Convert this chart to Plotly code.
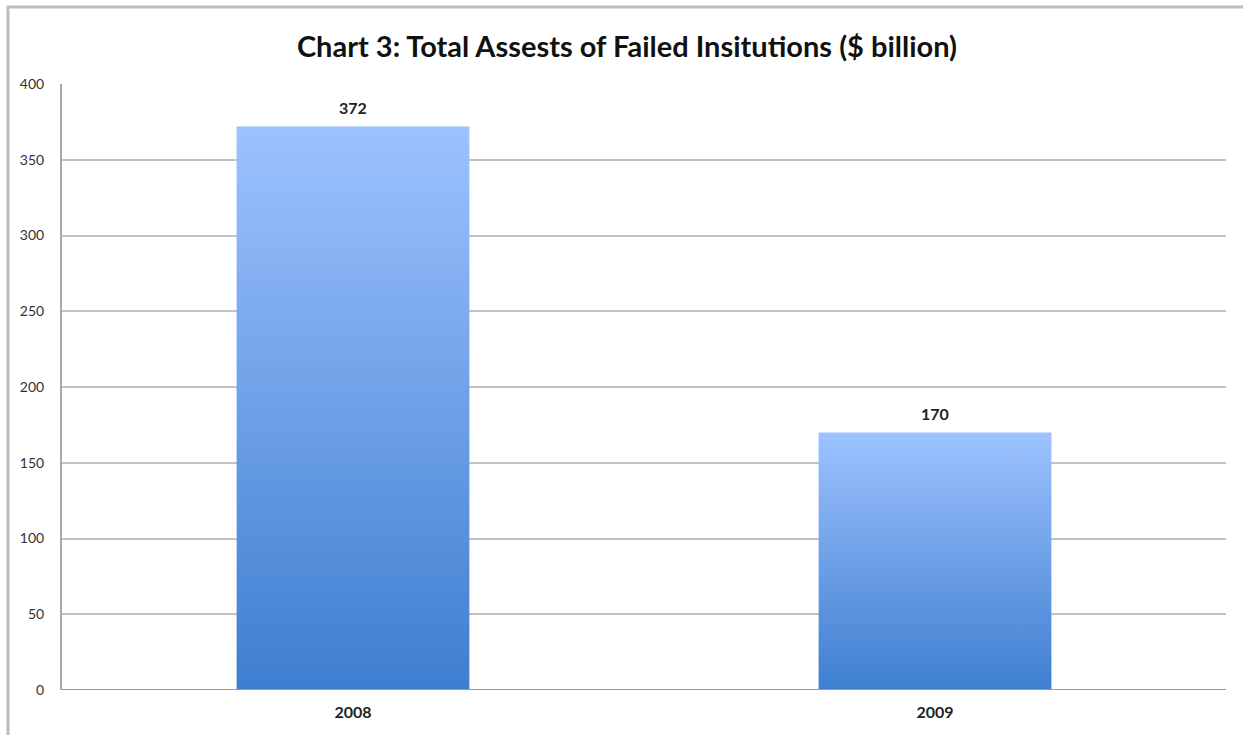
import plotly.graph_objects as go

categories = ["2008", "2009"]
values = [372, 170]
y_ticks = [0, 50, 100, 150, 200, 250, 300, 350, 400]

title_text = "Chart 3: Total Assests of Failed Insitutions ($ billion)"
FONT = "Lato, 'Open Sans', sans-serif"
TOP_COLOR = "#9dc2ff"
BOTTOM_COLOR = "#3e7ed0"
BAR_HALF = 0.2

W, H = 1243, 735
L, R, T, B = 62, 17, 84, 45
PW, PH = W - L - R, H - T - B

fig = go.Figure()
for i, (cat, v) in enumerate(zip(categories, values)):
    xs = [i - BAR_HALF, i - BAR_HALF, i + BAR_HALF, i + BAR_HALF, i - BAR_HALF]
    ys = [0, v, v, 0, 0]
    fig.add_trace(go.Scatter(
        x=xs, y=ys, mode="lines", fill="toself",
        line=dict(width=0, color="rgba(0,0,0,0)"),
        fillgradient=dict(type="vertical",
                          colorscale=[[0, BOTTOM_COLOR], [1, TOP_COLOR]],
                          start=0, stop=v),
        hoverinfo="skip", showlegend=False, name=cat,
    ))
    fig.add_annotation(x=i, y=v, text=f"<b>{v}</b>", showarrow=False,
                       yanchor="bottom", yshift=7,
                       font=dict(family=FONT, size=16, color="#222222"))

fig.update_layout(
    width=W, height=H,
    margin=dict(l=L, r=R, t=T, b=B),
    paper_bgcolor="white", plot_bgcolor="white",
    title=dict(text=f"<b>{title_text}</b>", x=627 / W, xanchor="center",
               y=1 - 47 / H, yanchor="middle",
               font=dict(family=FONT, size=29, color="#111111")),
    xaxis=dict(range=[-0.5, 1.5], tickmode="array",
               tickvals=list(range(len(categories))),
               ticktext=[f"<b>{c}</b>" for c in categories],
               showgrid=False, zeroline=False, showline=False,
               ticks="", ticklabelstandoff=11,
               tickfont=dict(family=FONT, size=16, color="#222222"),
               fixedrange=True),
    yaxis=dict(range=[0, 400], tickmode="array", tickvals=y_ticks,
               showgrid=True, gridcolor="#c2c2c2", gridwidth=2,
               zeroline=False, showline=True, linecolor="#a8a8a8", linewidth=2,
               ticks="", ticklabelstandoff=13,
               tickfont=dict(family=FONT, size=14, color="#333333"),
               fixedrange=True),
)

# baseline
fig.add_shape(type="line", xref="paper", yref="y", x0=0, x1=1, y0=0, y1=0,
              line=dict(color="#9a9a9a", width=2), layer="above")
# outer chart border (partially cropped in reference)
fig.add_shape(type="rect", xref="paper", yref="paper",
              x0=(8 - L) / PW, x1=1.1, y0=-0.2, y1=(H - B - 7) / PH,
              line=dict(color="#bdbdbd", width=3), fillcolor="rgba(0,0,0,0)",
              layer="below")

fig.write_html("out.html",
               config={"displayModeBar": False},
               post_script="document.body.style.margin='0';"
                           "document.body.style.overflow='hidden';")
